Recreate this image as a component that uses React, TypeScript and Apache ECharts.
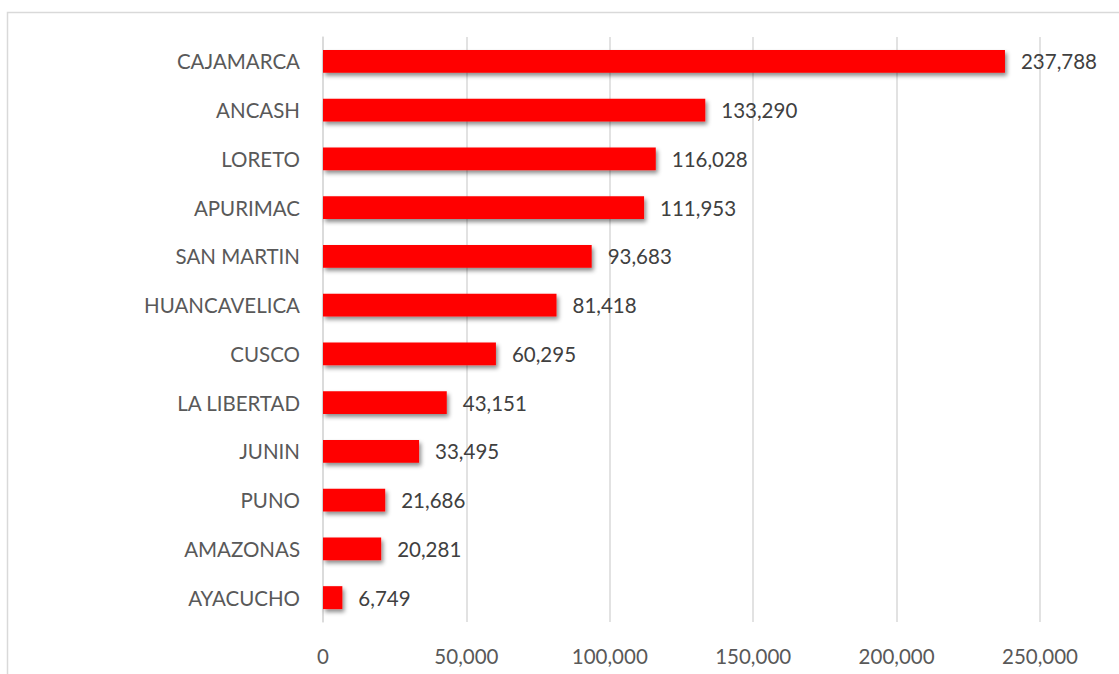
import React, { useEffect, useRef } from "react";
import * as echarts from "echarts";

const categories = [
  "CAJAMARCA",
  "ANCASH",
  "LORETO",
  "APURIMAC",
  "SAN MARTIN",
  "HUANCAVELICA",
  "CUSCO",
  "LA LIBERTAD",
  "JUNIN",
  "PUNO",
  "AMAZONAS",
  "AYACUCHO",
];
const values = [237788, 133290, 116028, 111953, 93683, 81418, 60295, 43151, 33495, 21686, 20281, 6749];
const xTicks = { min: 0, max: 250000, interval: 50000 };

const fmt = (v: number) => v.toLocaleString("en-US");

export default function App() {
  const ref = useRef<HTMLDivElement>(null);
  useEffect(() => {
    if (!ref.current) return;
    const chart = echarts.init(ref.current, undefined, { renderer: "svg" });
    const font = "Lato, 'Open Sans', sans-serif";
    chart.setOption({
      animation: false,
      backgroundColor: "#ffffff",
      graphic: [
        {
          type: "rect",
          shape: { x: 7.5, y: 12.5, width: 1300, height: 1000 },
          style: { fill: "none", stroke: "#d9d9d9", lineWidth: 1.5 },
          silent: true,
        },
      ],
      grid: { left: 323, right: 79, top: 37, bottom: 52, containLabel: false },
      xAxis: {
        type: "value",
        min: xTicks.min,
        max: xTicks.max,
        interval: xTicks.interval,
        axisLine: { show: false },
        axisTick: { show: false },
        splitLine: { show: true, lineStyle: { color: "#d9d9d9", width: 1.5 } },
        axisLabel: {
          color: "#595959",
          fontFamily: font,
          fontSize: 20.5,
          margin: 23,
          formatter: (v: number) => fmt(v),
        },
      },
      yAxis: {
        type: "category",
        data: categories.slice().reverse(),
        axisLine: { show: true, lineStyle: { color: "#d9d9d9", width: 1.5 } },
        axisTick: { show: false },
        axisLabel: { color: "#595959", fontFamily: font, fontSize: 20.5, margin: 23 },
      },
      series: [
        {
          type: "bar",
          data: values.slice().reverse(),
          barCategoryGap: "53%",
          itemStyle: {
            color: "#ff0000",
            shadowColor: "rgba(0,0,0,0.45)",
            shadowBlur: 4,
            shadowOffsetX: 2,
            shadowOffsetY: 3,
          },
          label: {
            show: true,
            position: "right",
            distance: 16,
            color: "#404040",
            fontFamily: font,
            fontSize: 20.5,
            formatter: (p: any) => fmt(p.value),
          },
        },
      ],
    });
    return () => chart.dispose();
  }, []);
  return (
    <div
      ref={ref}
      style={{ position: "fixed", left: 0, top: 0, width: 1119, height: 674 }}
    />
  );
}
